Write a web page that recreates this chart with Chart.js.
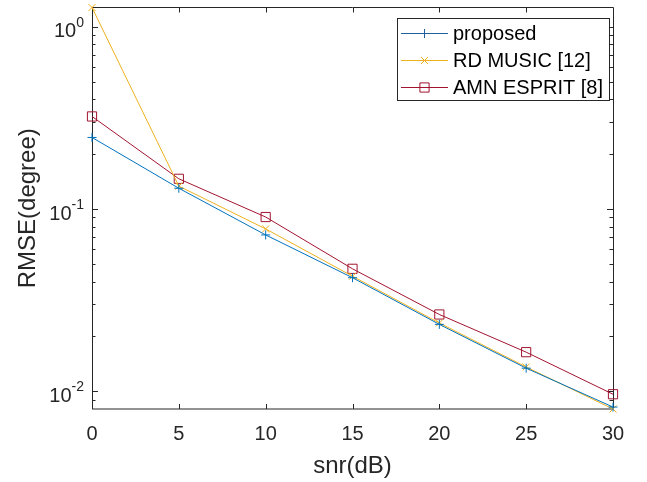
<!DOCTYPE html>
<html>
<head>
<meta charset="utf-8">
<script src="https://cdn.jsdelivr.net/npm/chart.js@4"></script>
<style>
  body { margin: 0; background: #fff; }
  canvas { display: block; }
</style>
</head>
<body>
<canvas id="rmseChart" width="647" height="482"></canvas>
<script>
// Data
const snr = [0, 5, 10, 15, 20, 25, 30];
const proposed = [0.247, 0.130, 0.0721, 0.042, 0.0233, 0.0134, 0.0082];
const rdMusic = [1.275, 0.1336, 0.0778, 0.0428, 0.0237, 0.0136, 0.0080];
const amnEsprit = [0.322, 0.1465, 0.0904, 0.047, 0.0264, 0.0164, 0.00964];
const seriesNames = ['proposed', 'RD MUSIC [12]', 'AMN ESPRIT [8]'];

const xTicks = [0, 5, 10, 15, 20, 25, 30];
const yMajorTicks = [0.01, 0.1, 1];
const yTickExp = ['-2', '-1', '0'];
const yMin = 0.008;
const yMax = 1.275;

const FONT = '"Liberation Sans", Arial, Helvetica, sans-serif';
const AXIS_COLOR = '#262626';

function pts(ys) {
    return snr.map((x, i) => ({ x: x, y: ys[i] }));
}

// minor ticks for the log axis: 2..9 times each decade
function minorTicks() {
    const out = [];
    for (let e = -3; e <= 0; e++) {
        for (let m = 2; m <= 9; m++) {
            const v = m * Math.pow(10, e);
            if (v > yMin && v < yMax) out.push(v);
        }
    }
    return out;
}

// Draws the MATLAB-style box, inward ticks and tick labels
const matlabAxes = {
    id: 'matlabAxes',
    beforeDatasetsDraw(chart) {
        const ctx = chart.ctx;
        const a = chart.chartArea;
        const xs = chart.scales.x;
        const ys = chart.scales.y;
        ctx.save();
        ctx.strokeStyle = AXIS_COLOR;
        ctx.lineWidth = 1;

        // box
        ctx.beginPath();
        ctx.moveTo(a.left + 0.5, a.top);
        ctx.lineTo(a.left + 0.5, a.bottom);
        ctx.moveTo(a.right + 0.5, a.top);
        ctx.lineTo(a.right + 0.5, a.bottom);
        ctx.moveTo(a.left, a.top);
        ctx.lineTo(a.right, a.top);
        ctx.moveTo(a.left, a.bottom);
        ctx.lineTo(a.right, a.bottom);
        ctx.stroke();

        // x ticks (bottom and top, pointing in)
        ctx.beginPath();
        xTicks.forEach(v => {
            const px = Math.round(xs.getPixelForValue(v)) + 0.5;
            ctx.moveTo(px, a.bottom);
            ctx.lineTo(px, a.bottom - 5);
            ctx.moveTo(px, a.top);
            ctx.lineTo(px, a.top + 5);
        });
        // y major ticks
        yMajorTicks.forEach(v => {
            const py = Math.round(ys.getPixelForValue(v)) + 0.5;
            ctx.moveTo(a.left, py);
            ctx.lineTo(a.left + 6, py);
            ctx.moveTo(a.right, py);
            ctx.lineTo(a.right - 6, py);
        });
        // y minor ticks
        minorTicks().forEach(v => {
            const py = Math.round(ys.getPixelForValue(v)) + 0.5;
            ctx.moveTo(a.left, py);
            ctx.lineTo(a.left + 3.5, py);
            ctx.moveTo(a.right, py);
            ctx.lineTo(a.right - 3.5, py);
        });
        ctx.stroke();

        // tick labels
        ctx.fillStyle = AXIS_COLOR;
        ctx.font = '20px ' + FONT;
        ctx.textAlign = 'center';
        ctx.textBaseline = 'middle';
        xTicks.forEach(v => {
            ctx.fillText(String(v), xs.getPixelForValue(v), 434);
        });

        yMajorTicks.forEach((v, i) => {
            const py = ys.getPixelForValue(v);
            const right = a.left - 8;
            ctx.font = '14px ' + FONT;
            const supW = ctx.measureText(yTickExp[i]).width;
            ctx.textAlign = 'right';
            ctx.fillText(yTickExp[i], right, py - 4);
            ctx.font = '20px ' + FONT;
            ctx.fillText('10', right - supW, py + 5);
        });

        // axis titles
        ctx.font = '24px ' + FONT;
        ctx.textAlign = 'center';
        ctx.textBaseline = 'middle';
        ctx.fillText('snr(dB)', (a.left + a.right) / 2, 466);
        ctx.save();
        ctx.translate(28, (a.top + a.bottom) / 2);
        ctx.rotate(-Math.PI / 2);
        ctx.fillText('RMSE(degree)', 0, 0);
        ctx.restore();

        ctx.restore();
    },
    afterDraw(chart) {
        // legend box, top right inside the axes
        const ctx = chart.ctx;
        const bx = 397, by = 18, bw = 212, bh = 82;
        ctx.save();
        ctx.fillStyle = '#fff';
        ctx.fillRect(bx, by, bw, bh);
        ctx.strokeStyle = AXIS_COLOR;
        ctx.lineWidth = 1;
        ctx.strokeRect(bx + 0.5, by + 0.5, bw, bh);

        const legendColors = ['#1f5f9c', '#EDB120', '#A2142F'];
        chart.data.datasets.forEach((ds, i) => {
            const y = 33.5 + i * 27;
            ctx.strokeStyle = legendColors[i];
            ctx.lineWidth = 1;
            ctx.beginPath();
            ctx.moveTo(401, y);
            ctx.lineTo(448, y);
            ctx.stroke();
            ctx.fillStyle = 'rgba(0,0,0,0)';
            Chart.helpers.drawPoint(ctx, {
                pointStyle: ds.pointStyle,
                radius: ds.pointRadius,
                rotation: 0,
                borderWidth: 1
            }, 424.5, y);
            ctx.fillStyle = '#000';
            ctx.font = '20px ' + FONT;
            ctx.textAlign = 'left';
            ctx.textBaseline = 'middle';
            ctx.fillText(seriesNames[i], 453, y + 1);
        });
        ctx.restore();
    }
};

const ctx = document.getElementById('rmseChart').getContext('2d');
new Chart(ctx, {
    type: 'line',
    data: {
        datasets: [
            {
                label: seriesNames[0],
                data: pts(proposed),
                borderColor: '#0072BD',
                backgroundColor: 'rgba(0,0,0,0)',
                pointStyle: 'cross',
                pointRadius: 4.5,
                pointBorderWidth: 1
            },
            {
                label: seriesNames[1],
                data: pts(rdMusic),
                borderColor: '#EDB120',
                backgroundColor: 'rgba(0,0,0,0)',
                pointStyle: 'crossRot',
                pointRadius: 5,
                pointBorderWidth: 1
            },
            {
                label: seriesNames[2],
                data: pts(amnEsprit),
                borderColor: '#A2142F',
                backgroundColor: 'rgba(0,0,0,0)',
                pointStyle: 'rect',
                pointRadius: 6.5,
                pointBorderWidth: 1
            }
        ]
    },
    options: {
        responsive: false,
        animation: false,
        devicePixelRatio: 1,
        layout: { padding: { top: 6, right: 34, left: 0, bottom: 0 } },
        elements: {
            line: { borderWidth: 1, tension: 0, fill: false },
            point: { hoverRadius: 5 }
        },
        datasets: { line: { clip: false } },
        scales: {
            x: {
                type: 'linear',
                min: 0,
                max: 30,
                grid: { display: false },
                border: { display: false },
                ticks: { display: false },
                afterFit(scale) { scale.height = 73; }
            },
            y: {
                type: 'logarithmic',
                min: yMin,
                max: yMax,
                grid: { display: false },
                border: { display: false },
                ticks: { display: false },
                afterFit(scale) { scale.width = 92; }
            }
        },
        plugins: {
            legend: { display: false },
            tooltip: { enabled: false }
        }
    },
    plugins: [matlabAxes]
});
</script>
</body>
</html>
